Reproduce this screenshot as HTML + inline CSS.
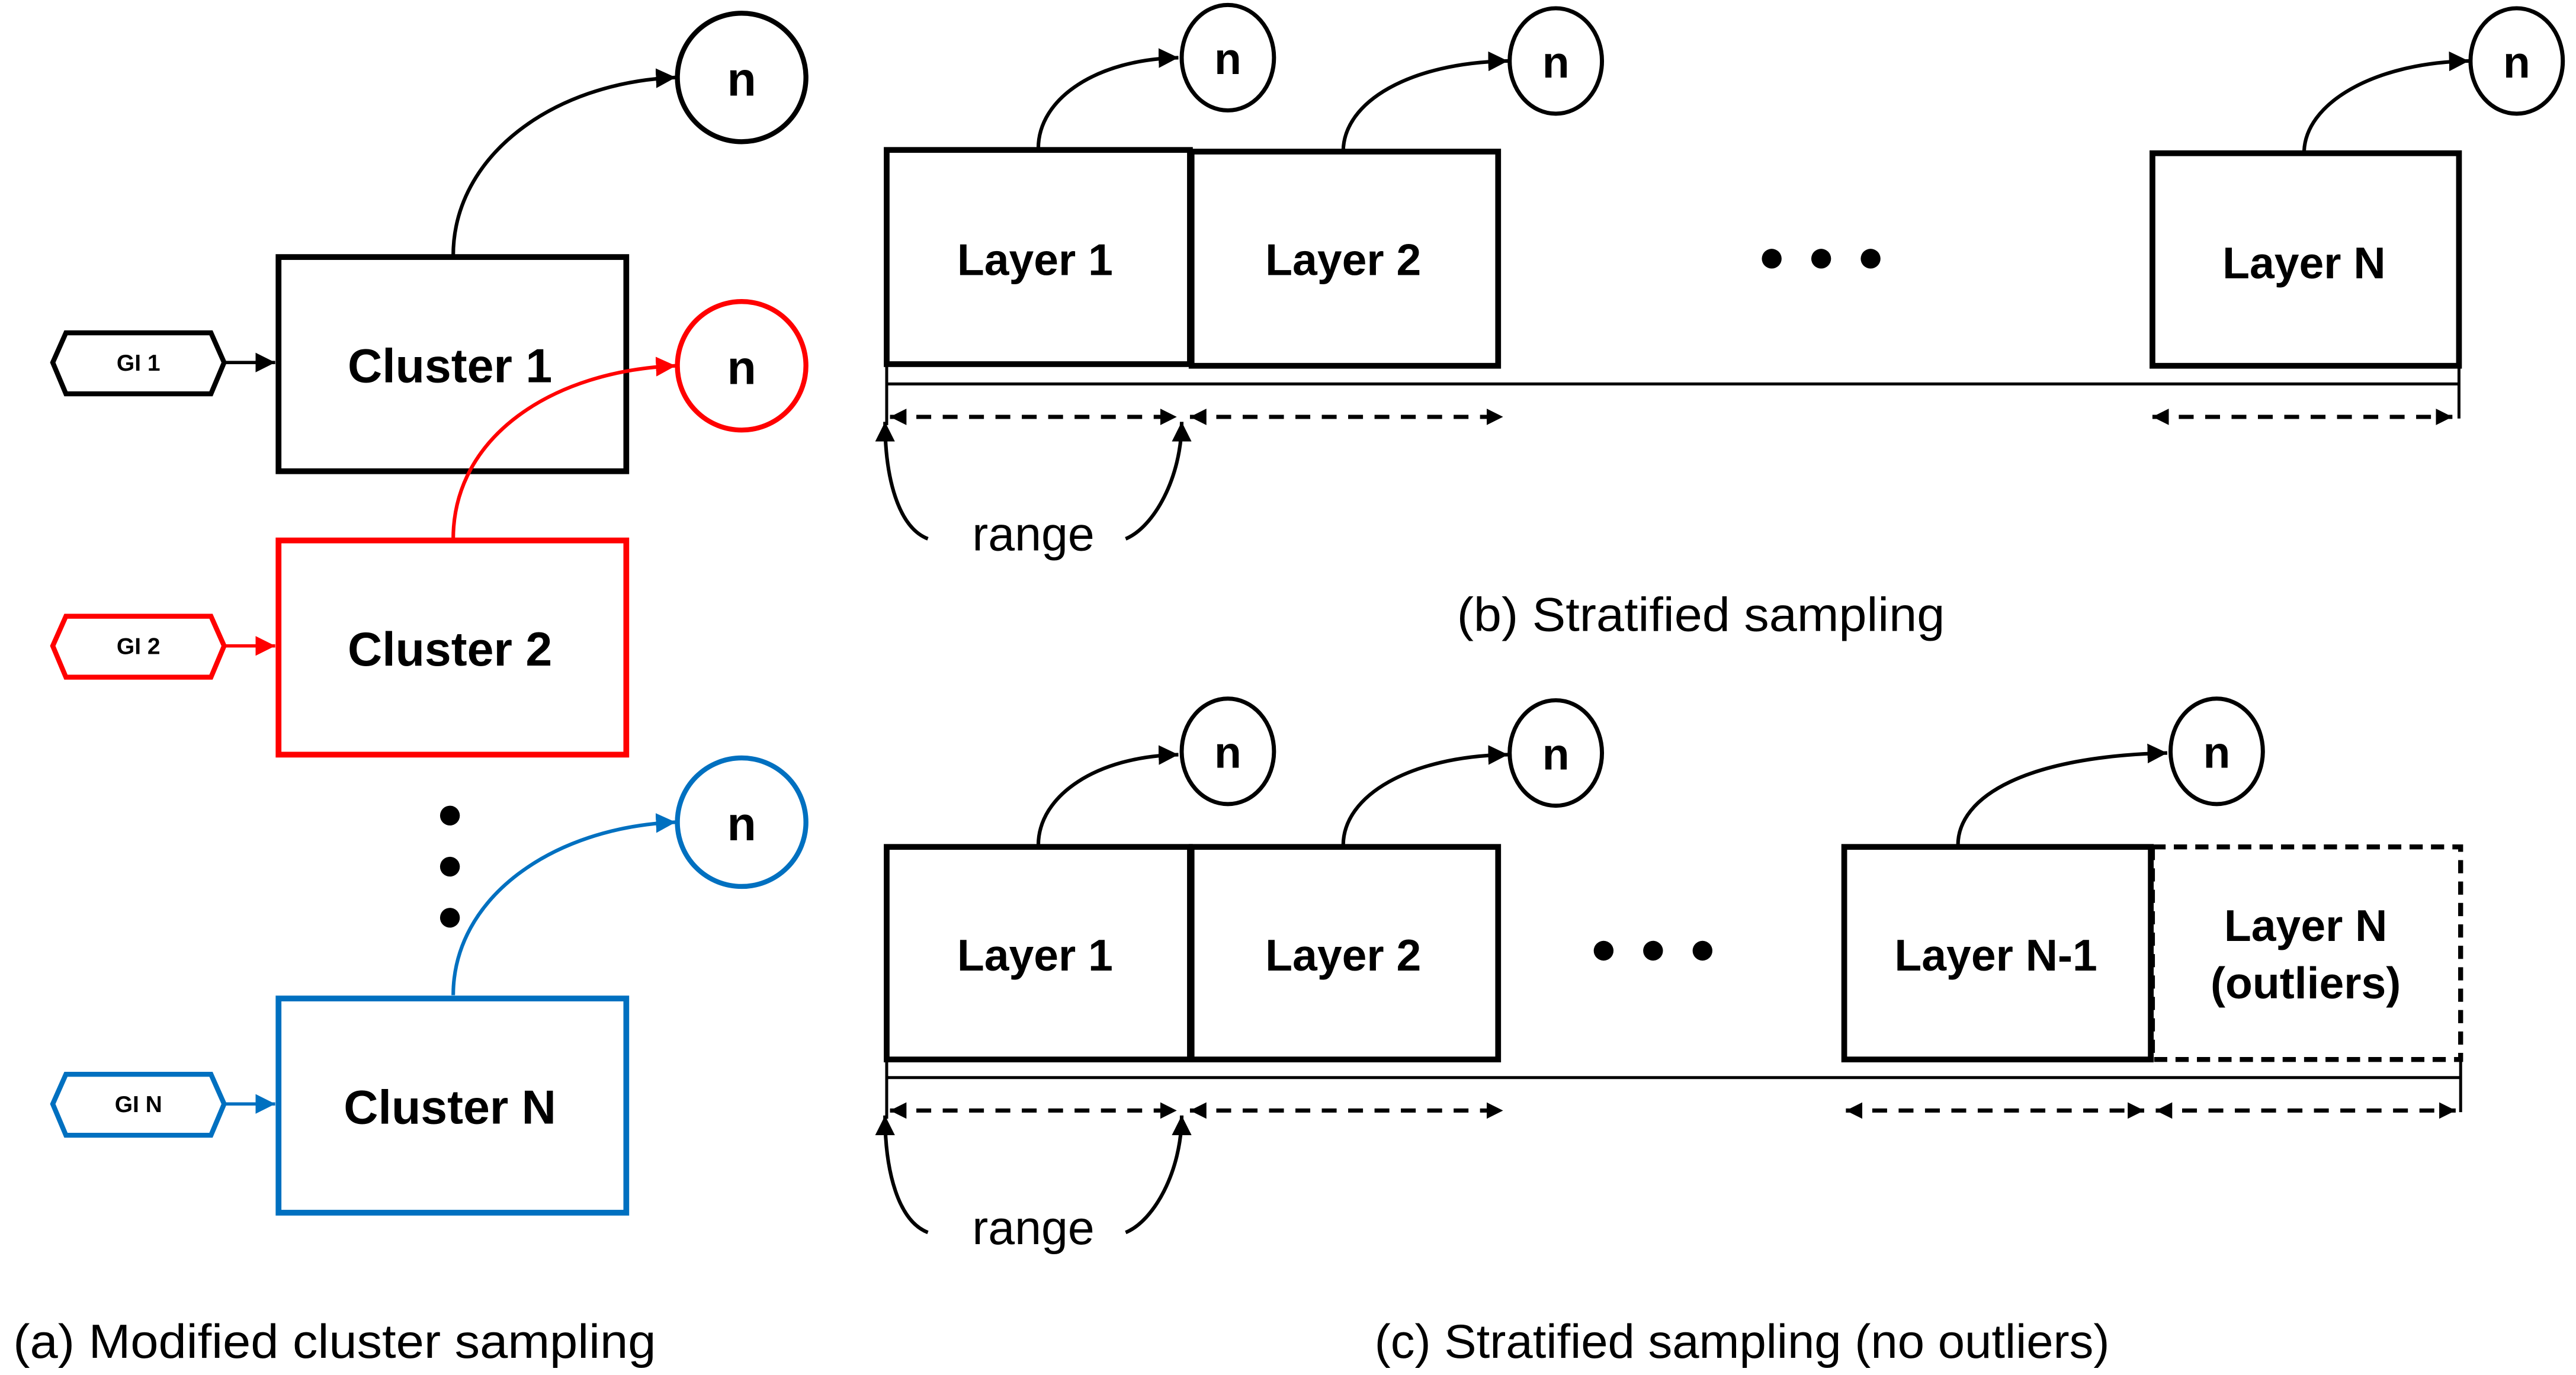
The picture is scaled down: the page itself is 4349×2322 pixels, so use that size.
<!DOCTYPE html>
<html><head><meta charset="utf-8"><style>html,body{margin:0;padding:0;background:#fff}svg{display:block}</style></head>
<body>
<svg width="4349" height="2322" viewBox="0 0 1563 834.5" xmlns="http://www.w3.org/2000/svg" font-family="Liberation Sans, DejaVu Sans, sans-serif">
<defs>
<marker id="ak" markerWidth="12" markerHeight="12" refX="10" refY="5" orient="auto" markerUnits="userSpaceOnUse" viewBox="0 0 10 10"><path d="M0,0L10,5L0,10z" fill="#000"/></marker>
<marker id="ar" markerWidth="12" markerHeight="12" refX="10" refY="5" orient="auto" markerUnits="userSpaceOnUse" viewBox="0 0 10 10"><path d="M0,0L10,5L0,10z" fill="#f00"/></marker>
<marker id="ab" markerWidth="12" markerHeight="12" refX="10" refY="5" orient="auto" markerUnits="userSpaceOnUse" viewBox="0 0 10 10"><path d="M0,0L10,5L0,10z" fill="#0070c0"/></marker>
<marker id="sk" markerWidth="10" markerHeight="10" refX="10" refY="5" orient="auto" markerUnits="userSpaceOnUse" viewBox="0 0 10 10"><path d="M0,0L10,5L0,10z" fill="#000"/></marker>
<marker id="sks" markerWidth="10" markerHeight="10" refX="10" refY="5" orient="auto-start-reverse" markerUnits="userSpaceOnUse" viewBox="0 0 10 10"><path d="M0,0L10,5L0,10z" fill="#000"/></marker>
</defs>
<g fill="none" stroke-width="3">
<path d="M275,155 C275,95 335,50 410,47" stroke="#000" stroke-width="2.2" marker-end="url(#ak)"/>
<circle cx="450" cy="47" r="39" stroke="#000"/>
<rect x="169" y="156" width="211" height="130" stroke="#000" stroke-width="3.5"/>
<polygon points="32,220 40,202 128,202 136,220 128,239 40,239" stroke="#000"/>
<path d="M136,220 L167,220" stroke="#000" stroke-width="2" marker-end="url(#ak)"/>

<path d="M275,327 C275,265 335,225 410,222" stroke="#f00" stroke-width="2.2" marker-end="url(#ar)"/>
<circle cx="450" cy="222" r="39" stroke="#f00"/>
<rect x="169" y="328" width="211" height="130" stroke="#f00" stroke-width="3.5"/>
<polygon points="32,392 40,374 128,374 136,392 128,411 40,411" stroke="#f00"/>
<path d="M136,392 L167,392" stroke="#f00" stroke-width="2" marker-end="url(#ar)"/>

<path d="M275,604 C275,545 335,502 410,499" stroke="#0070c0" stroke-width="2.2" marker-end="url(#ab)"/>
<circle cx="450" cy="499" r="39" stroke="#0070c0"/>
<rect x="169" y="606" width="211" height="130" stroke="#0070c0" stroke-width="3.5"/>
<polygon points="32,670 40,652 128,652 136,670 128,689 40,689" stroke="#0070c0"/>
<path d="M136,670 L167,670" stroke="#0070c0" stroke-width="2" marker-end="url(#ab)"/>

<path d="M630,90 C630,60 665,36 715,35" stroke="#000" stroke-width="2.2" marker-end="url(#ak)"/>
<ellipse cx="745" cy="35" rx="28" ry="32" stroke="#000" stroke-width="2.5"/>
<path d="M815,92 C815,62 855,38 915,37" stroke="#000" stroke-width="2.2" marker-end="url(#ak)"/>
<ellipse cx="944" cy="37" rx="28" ry="32" stroke="#000" stroke-width="2.5"/>
<path d="M1398,93 C1398,63 1440,38 1498,37" stroke="#000" stroke-width="2.2" marker-end="url(#ak)"/>
<ellipse cx="1527" cy="37" rx="28" ry="32" stroke="#000" stroke-width="2.5"/>
<rect x="538" y="91" width="184" height="130" stroke="#000" stroke-width="3.5"/>
<rect x="723" y="92" width="186" height="130" stroke="#000" stroke-width="3.5"/>
<rect x="1306" y="93" width="186" height="129" stroke="#000" stroke-width="3.5"/>
<path d="M538,221 V258 M538,233 H1492 M1492,222 V254" stroke="#000" stroke-width="1.8"/>
<path d="M540,253 H714" stroke="#000" stroke-width="2.5" stroke-dasharray="9,7" marker-start="url(#sks)" marker-end="url(#sk)"/>
<path d="M722,253 H912" stroke="#000" stroke-width="2.5" stroke-dasharray="9,7" marker-start="url(#sks)" marker-end="url(#sk)"/>
<path d="M1306,253 H1488" stroke="#000" stroke-width="2.5" stroke-dasharray="9,7" marker-start="url(#sks)" marker-end="url(#sk)"/>
<path d="M563,327 C545,320 537,290 537,256" stroke="#000" stroke-width="2.2" marker-end="url(#ak)"/>
<path d="M683,327 C700,320 717,290 717,256" stroke="#000" stroke-width="2.2" marker-end="url(#ak)"/>

<path d="M630,513 C630,483 665,459 715,458" stroke="#000" stroke-width="2.2" marker-end="url(#ak)"/>
<ellipse cx="745" cy="456" rx="28" ry="32" stroke="#000" stroke-width="2.5"/>
<path d="M815,513 C815,483 855,459 915,458" stroke="#000" stroke-width="2.2" marker-end="url(#ak)"/>
<ellipse cx="944" cy="457" rx="28" ry="32" stroke="#000" stroke-width="2.5"/>
<path d="M1188,513 C1188,483 1230,459 1315,457" stroke="#000" stroke-width="2.2" marker-end="url(#ak)"/>
<ellipse cx="1345" cy="456" rx="28" ry="32" stroke="#000" stroke-width="2.5"/>
<rect x="538" y="514" width="184" height="129" stroke="#000" stroke-width="3.5"/>
<rect x="723" y="514" width="186" height="129" stroke="#000" stroke-width="3.5"/>
<rect x="1306" y="514" width="187" height="129" stroke="#000" stroke-width="3" stroke-dasharray="8,5"/>
<rect x="1119" y="514" width="186" height="129" stroke="#000" stroke-width="3.5"/>
<path d="M538,643 V679 M538,654 H1493 M1493,643 V675" stroke="#000" stroke-width="1.8"/>
<path d="M540,674 H714" stroke="#000" stroke-width="2.5" stroke-dasharray="9,7" marker-start="url(#sks)" marker-end="url(#sk)"/>
<path d="M722,674 H912" stroke="#000" stroke-width="2.5" stroke-dasharray="9,7" marker-start="url(#sks)" marker-end="url(#sk)"/>
<path d="M1120,674 H1301" stroke="#000" stroke-width="2.5" stroke-dasharray="9,7" marker-start="url(#sks)" marker-end="url(#sk)"/>
<path d="M1308,674 H1490" stroke="#000" stroke-width="2.5" stroke-dasharray="9,7" marker-start="url(#sks)" marker-end="url(#sk)"/>
<path d="M563,748 C545,741 537,711 537,677" stroke="#000" stroke-width="2.2" marker-end="url(#ak)"/>
<path d="M683,748 C700,741 717,711 717,677" stroke="#000" stroke-width="2.2" marker-end="url(#ak)"/>
</g>
<g fill="#000">
<circle cx="273" cy="495" r="6"/><circle cx="273" cy="526" r="6"/><circle cx="273" cy="557" r="6"/>
<circle cx="1075" cy="157" r="6"/><circle cx="1105" cy="157" r="6"/><circle cx="1135" cy="157" r="6"/>
<circle cx="973" cy="577" r="6"/><circle cx="1003" cy="577" r="6"/><circle cx="1033" cy="577" r="6"/>
</g>
<g font-weight="bold" text-anchor="middle" font-size="29" fill="#000">
<text x="450" y="58">n</text><text x="450" y="233">n</text><text x="450" y="510">n</text>
<text x="273" y="232">Cluster 1</text><text x="273" y="404">Cluster 2</text><text x="273" y="682">Cluster N</text>
<text x="84" y="225" font-size="14">GI 1</text><text x="84" y="397" font-size="14">GI 2</text><text x="84" y="675" font-size="14">GI N</text>
<text x="745" y="45" font-size="27">n</text><text x="944" y="47" font-size="27">n</text><text x="1527" y="47" font-size="27">n</text>
<text x="745" y="466" font-size="27">n</text><text x="944" y="467" font-size="27">n</text><text x="1345" y="466" font-size="27">n</text>
<text x="628" y="167" font-size="27">Layer 1</text><text x="815" y="167" font-size="27">Layer 2</text><text x="1398" y="169" font-size="27">Layer N</text>
<text x="628" y="589" font-size="27">Layer 1</text><text x="815" y="589" font-size="27">Layer 2</text><text x="1211" y="589" font-size="27">Layer N-1</text>
<text x="1399" y="571" font-size="27">Layer N</text><text x="1399" y="606" font-size="27">(outliers)</text>
</g>
<g font-size="29" fill="#000">
<text x="627" y="334" text-anchor="middle">range</text>
<text x="627" y="755" text-anchor="middle">range</text>
<text x="884" y="383" textLength="296" lengthAdjust="spacingAndGlyphs">(b) Stratified sampling</text>
<text x="8" y="824" textLength="390" lengthAdjust="spacingAndGlyphs">(a) Modified cluster sampling</text>
<text x="834" y="824" textLength="446" lengthAdjust="spacingAndGlyphs">(c) Stratified sampling (no outliers)</text>
</g>
</svg>
</body></html>
